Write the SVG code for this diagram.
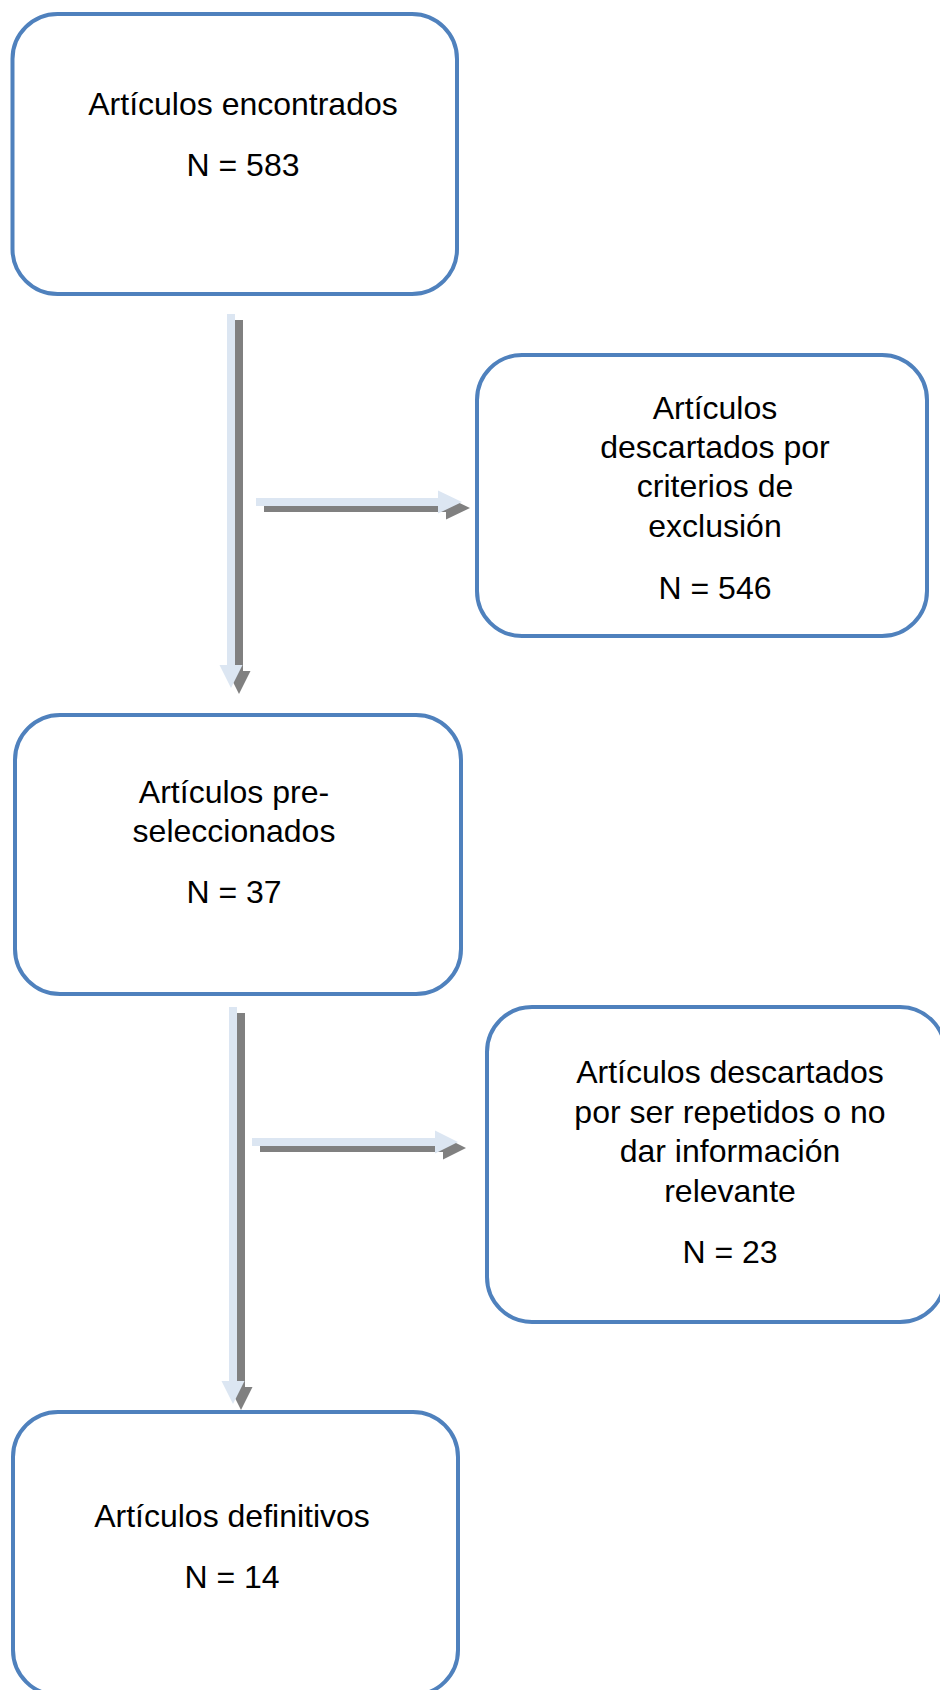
<svg xmlns="http://www.w3.org/2000/svg" width="940" height="1690" viewBox="0 0 940 1690">
<style>
.box{fill:#ffffff;stroke:#4F81BD;stroke-width:4}
.t{font-family:"Liberation Sans",Arial,sans-serif;font-size:32px;fill:#000000;text-anchor:middle}
.lt{fill:#DCE6F2}
.sh{fill:#808080}
</style>
<defs>
<polygon id="vA1" points="227,314 235,314 235,665 242.5,665 231,688 219.5,665 227,665"/>
<polygon id="hA1" points="256,498 438,498 438,490.5 462,502 438,513.5 438,506 256,506"/>
<polygon id="vA2" points="229,1007 237,1007 237,1381 244.5,1381 233,1404 221.5,1381 229,1381"/>
<polygon id="hA2" points="252,1138 435,1138 435,1130.5 458,1142 435,1153.5 435,1146 252,1146"/>
</defs>
<rect width="940" height="1690" fill="#ffffff"/>
<g id="connectors">
<use href="#vA1" class="sh" transform="translate(8,6)"/>
<use href="#vA1" class="lt"/>
<use href="#hA1" class="sh" transform="translate(8,6)"/>
<use href="#hA1" class="lt"/>
<use href="#vA2" class="sh" transform="translate(8,6)"/>
<use href="#vA2" class="lt"/>
<use href="#hA2" class="sh" transform="translate(8,6)"/>
<use href="#hA2" class="lt"/>
</g>
<g id="node1">
<rect class="box" x="12.5" y="14" width="444.5" height="280" rx="45" ry="45"/>
<text class="t" x="243" y="115">Artículos encontrados</text>
<text class="t" x="243" y="176">N = 583</text>
</g>
<g id="node2">
<rect class="box" x="477" y="355" width="450" height="281" rx="45" ry="45"/>
<text class="t" x="715" y="419">Artículos</text>
<text class="t" x="715" y="458">descartados por</text>
<text class="t" x="715" y="497">criterios de</text>
<text class="t" x="715" y="537">exclusión</text>
<text class="t" x="715" y="599">N = 546</text>
</g>
<g id="node3">
<rect class="box" x="15" y="715" width="446" height="279" rx="45" ry="45"/>
<text class="t" x="234" y="803">Artículos pre-</text>
<text class="t" x="234" y="842">seleccionados</text>
<text class="t" x="234" y="903">N = 37</text>
</g>
<g id="node4">
<rect class="box" x="487" y="1007" width="458" height="315" rx="45" ry="45"/>
<text class="t" x="730" y="1083">Artículos descartados</text>
<text class="t" x="730" y="1123">por ser repetidos o no</text>
<text class="t" x="730" y="1162">dar información</text>
<text class="t" x="730" y="1202">relevante</text>
<text class="t" x="730" y="1263">N = 23</text>
</g>
<g id="node5">
<rect class="box" x="13" y="1412" width="445" height="283" rx="45" ry="45"/>
<text class="t" x="232" y="1527">Artículos definitivos</text>
<text class="t" x="232" y="1588">N = 14</text>
</g>
</svg>
